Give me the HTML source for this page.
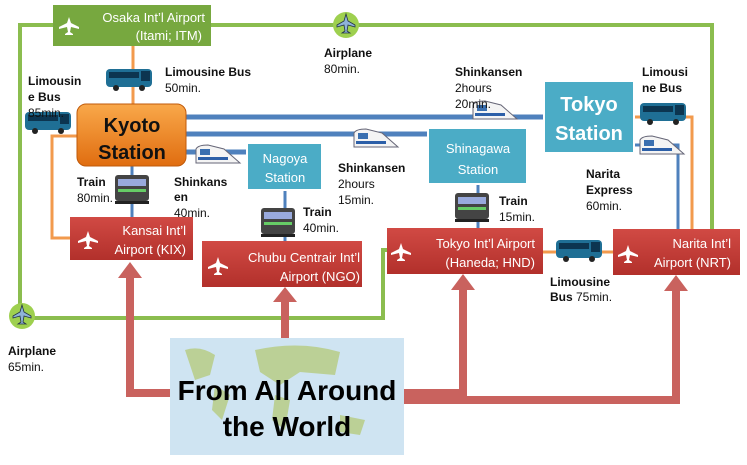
<!DOCTYPE html>
<html><head><style>
body{margin:0;background:#fff;}
svg text{font-family:"Liberation Sans",sans-serif;}
</style></head><body>
<svg width="747" height="460" viewBox="0 0 747 460" xmlns="http://www.w3.org/2000/svg">
<defs>
<linearGradient id="og" x1="0" y1="0" x2="0" y2="1"><stop offset="0" stop-color="#f9a84a"/><stop offset="1" stop-color="#e06d10"/></linearGradient>
<linearGradient id="rg" x1="0" y1="0" x2="0" y2="1"><stop offset="0" stop-color="#d14a44"/><stop offset="1" stop-color="#b2302b"/></linearGradient>
<g id="plane"><path d="M0,-9 L2,-3 L10,1 L10,3 L2,1 L1,6 L4,8 L4,9 L-4,9 L-4,8 L-1,6 L-2,1 L-10,3 L-10,1 L-2,-3 Z" fill="#fff"/></g>
<g id="bus"><rect x="0" y="2" width="46" height="18" rx="4" fill="#1f6f95"/><rect x="3" y="5" width="30" height="6" fill="#0c3550"/><rect x="35" y="4" width="9" height="10" fill="#0c3550"/><circle cx="10" cy="21" r="3" fill="#222"/><circle cx="36" cy="21" r="3" fill="#222"/></g>
<g id="train"><rect x="0" y="0" width="34" height="26" rx="3" fill="#444"/><rect x="3" y="4" width="28" height="7" fill="#9ad"/><rect x="3" y="14" width="28" height="3" fill="#6c6"/><rect x="0" y="26" width="34" height="3" fill="#222"/></g>
<g id="shink"><path d="M0,4 Q2,0 12,0 L28,4 L44,18 L0,18 Z" fill="#f4f4f4" stroke="#667" stroke-width="1"/><rect x="2" y="12" width="30" height="3" fill="#2c5fa8"/><rect x="4" y="4" width="10" height="6" fill="#3a6fb0"/></g>
</defs>

<g fill="none" stroke="#8bbd4f" stroke-width="4">
<polyline points="20,318 20,25 712,25 712,232"/>
<polyline points="20,318 383,318 383,250 388,250"/>
</g>
<g fill="none" stroke="#f29a4d" stroke-width="3">
<line x1="133" y1="46" x2="133" y2="104"/>
<polyline points="80,136 52,136 52,238 70,238"/>
<polyline points="634,117 692,117 692,229"/>
<line x1="543" y1="252" x2="613" y2="252"/>
</g>
<g fill="none" stroke="#4f81bd" stroke-width="5">
<line x1="186" y1="117" x2="544" y2="117"/>
<line x1="186" y1="134" x2="428" y2="134"/>
<line x1="186" y1="152" x2="247" y2="152"/>
</g>
<g fill="none" stroke="#4f81bd" stroke-width="3">
<line x1="132" y1="166" x2="132" y2="217"/>
<line x1="285" y1="190" x2="285" y2="241"/>
<line x1="478" y1="184" x2="478" y2="228"/>
<polyline points="634,145 678,145 678,229"/>
</g>
<g fill="none" stroke="#c9625e" stroke-width="8">
<polyline points="170,393 130,393 130,275"/>
<line x1="285" y1="338" x2="285" y2="300"/>
<polyline points="404,393 463,393 463,288"/>
<polyline points="404,400 676,400 676,288"/>
</g>
<g fill="#c9625e">
<polygon points="118,278 142,278 130,262"/>
<polygon points="273,302 297,302 285,287"/>
<polygon points="451,290 475,290 463,274"/>
<polygon points="664,291 688,291 676,275"/>
</g>

<rect x="53" y="5" width="158" height="41" fill="#77a83f"/>
<use href="#plane" x="69" y="26"/>
<text x="205" y="22" font-size="13" fill="#fff" text-anchor="end">Osaka Int’l Airport</text>
<text x="202" y="40" font-size="13" fill="#fff" text-anchor="end">(Itami; ITM)</text>

<rect x="77" y="104" width="109" height="62" rx="9" fill="url(#og)" stroke="#c05a0a"/>
<text x="132" y="132" font-size="20" font-weight="bold" text-anchor="middle" fill="#111">Kyoto</text>
<text x="132" y="159" font-size="20" font-weight="bold" text-anchor="middle" fill="#111">Station</text>

<rect x="247" y="143" width="75" height="47" fill="#4bacc6" stroke="#fff" stroke-width="2"/>
<text x="285" y="163" font-size="13" fill="#fff" text-anchor="middle">Nagoya</text>
<text x="285" y="182" font-size="13" fill="#fff" text-anchor="middle">Station</text>
<rect x="428" y="128" width="99" height="56" fill="#4bacc6" stroke="#fff" stroke-width="2"/>
<text x="478" y="153" font-size="13" fill="#fff" text-anchor="middle">Shinagawa</text>
<text x="478" y="174" font-size="13" fill="#fff" text-anchor="middle">Station</text>
<rect x="544" y="81" width="90" height="72" fill="#4bacc6" stroke="#fff" stroke-width="2"/>
<text x="589" y="111" font-size="20" font-weight="bold" fill="#fff" text-anchor="middle">Tokyo</text>
<text x="589" y="140" font-size="20" font-weight="bold" fill="#fff" text-anchor="middle">Station</text>

<rect x="70" y="217" width="123" height="43" fill="url(#rg)"/>
<use href="#plane" x="88" y="240"/>
<text x="186" y="235" font-size="13" fill="#fff" text-anchor="end">Kansai Int’l</text>
<text x="186" y="254" font-size="13" fill="#fff" text-anchor="end">Airport (KIX)</text>
<rect x="202" y="241" width="160" height="46" fill="url(#rg)"/>
<use href="#plane" x="218" y="266"/>
<text x="360" y="262" font-size="13" fill="#fff" text-anchor="end">Chubu Centrair Int’l</text>
<text x="360" y="281" font-size="13" fill="#fff" text-anchor="end">Airport (NGO)</text>
<rect x="387" y="228" width="156" height="46" fill="url(#rg)"/>
<use href="#plane" x="401" y="252"/>
<text x="535" y="248" font-size="13" fill="#fff" text-anchor="end">Tokyo Int’l Airport</text>
<text x="535" y="267" font-size="13" fill="#fff" text-anchor="end">(Haneda; HND)</text>
<rect x="613" y="229" width="127" height="46" fill="url(#rg)"/>
<use href="#plane" x="628" y="254"/>
<text x="731" y="248" font-size="13" fill="#fff" text-anchor="end">Narita Int’l</text>
<text x="731" y="267" font-size="13" fill="#fff" text-anchor="end">Airport (NRT)</text>

<rect x="170" y="338" width="234" height="117" fill="#cfe4f2"/>
<path d="M185,350 Q200,345 215,355 L210,375 L195,380 Z M215,385 L230,395 L222,420 L212,410 Z M255,350 Q300,340 340,352 L335,375 L300,372 L280,385 L260,372 Z M275,395 L290,400 L285,430 L272,420 Z M340,415 L365,420 L360,435 L340,432 Z" fill="#b5ca7e" opacity="0.8"/>
<text x="287" y="400" font-size="28" font-weight="bold" text-anchor="middle" fill="#000">From All Around</text>
<text x="287" y="436" font-size="28" font-weight="bold" text-anchor="middle" fill="#000">the World</text>

<circle cx="346" cy="25" r="13" fill="#9ed04f"/>
<path d="M346,14 L348,21 L355,25 L355,27 L348,25 L347,31 L350,33 L342,33 L345,31 L344,25 L337,27 L337,25 L344,21 Z" fill="#8fb3d8" stroke="#234" stroke-width="0.8"/>
<circle cx="22" cy="316" r="13" fill="#9ed04f"/>
<path d="M22,305 L24,312 L31,316 L31,318 L24,316 L23,322 L26,324 L18,324 L21,322 L20,316 L13,318 L13,316 L20,312 Z" fill="#8fb3d8" stroke="#234" stroke-width="0.8"/>

<use href="#bus" x="106" y="67"/>
<use href="#bus" x="25" y="110"/>
<use href="#train" x="115" y="175"/>
<use href="#shink" x="196" y="145"/>
<use href="#train" x="261" y="208"/>
<use href="#shink" x="354" y="129"/>
<use href="#shink" x="473" y="101"/>
<use href="#train" x="455" y="193"/>
<use href="#bus" x="640" y="101"/>
<use href="#shink" x="640" y="136"/>
<use href="#bus" x="556" y="238"/>

<g font-size="12" fill="#111">
<text x="165" y="76" font-weight="bold">Limousine Bus</text>
<text x="165" y="92">50min.</text>
<text x="28" y="85" font-weight="bold">Limousin</text>
<text x="28" y="101" font-weight="bold">e Bus</text>
<text x="28" y="117">85min.</text>
<text x="324" y="57" font-weight="bold">Airplane</text>
<text x="324" y="73">80min.</text>
<text x="77" y="186" font-weight="bold">Train</text>
<text x="77" y="202">80min.</text>
<text x="174" y="186" font-weight="bold">Shinkans</text>
<text x="174" y="201" font-weight="bold">en</text>
<text x="174" y="217">40min.</text>
<text x="303" y="216" font-weight="bold">Train</text>
<text x="303" y="232">40min.</text>
<text x="338" y="172" font-weight="bold">Shinkansen</text>
<text x="338" y="188">2hours</text>
<text x="338" y="204">15min.</text>
<text x="455" y="76" font-weight="bold">Shinkansen</text>
<text x="455" y="92">2hours</text>
<text x="455" y="108">20min.</text>
<text x="499" y="205" font-weight="bold">Train</text>
<text x="499" y="221">15min.</text>
<text x="642" y="76" font-weight="bold">Limousi</text>
<text x="642" y="92" font-weight="bold">ne Bus</text>
<text x="586" y="178" font-weight="bold">Narita</text>
<text x="586" y="194" font-weight="bold">Express</text>
<text x="586" y="210">60min.</text>
<text x="550" y="286" font-weight="bold">Limousine</text>
<text x="550" y="301"><tspan font-weight="bold">Bus</tspan> 75min.</text>
<text x="8" y="355" font-weight="bold">Airplane</text>
<text x="8" y="371">65min.</text>
</g>
</svg>
</body></html>
